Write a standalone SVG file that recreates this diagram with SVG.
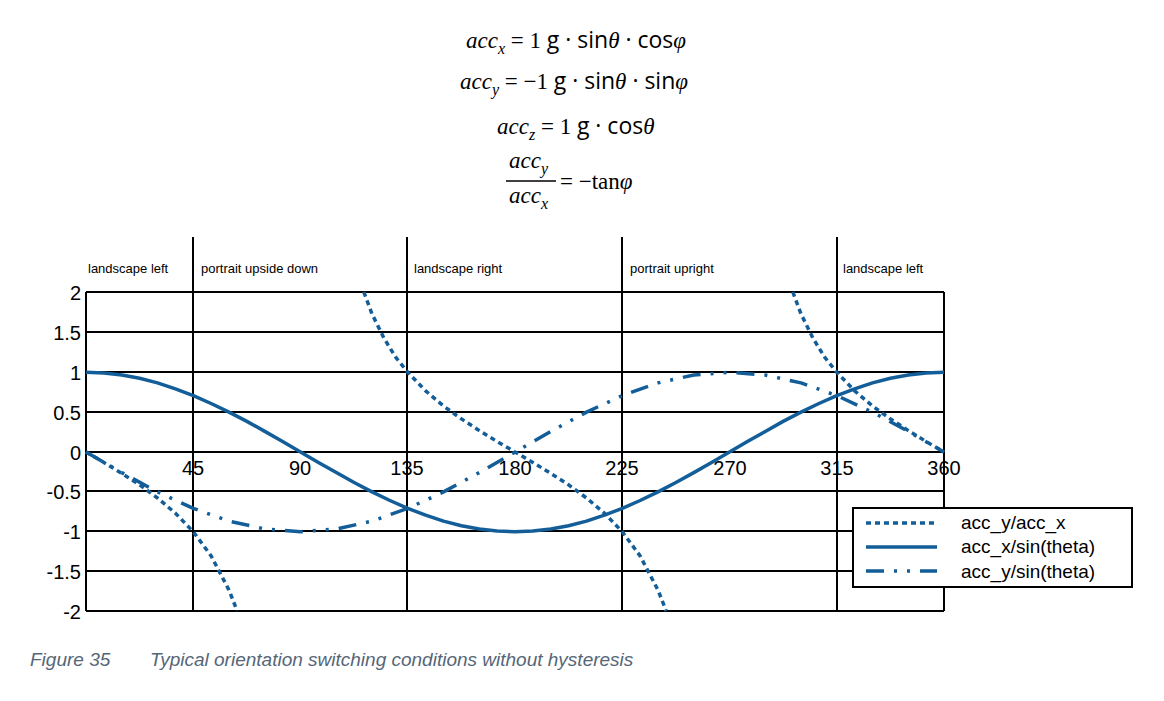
<svg xmlns="http://www.w3.org/2000/svg" width="1164" height="701" viewBox="0 0 1164 701">
<style>
.eq{font-family:"Liberation Serif",serif;font-size:23px;fill:#000}
.it{font-style:italic}
.fn{font-family:"Open Sans","Liberation Sans",sans-serif}
.grid{stroke:#000;stroke-width:2;fill:none}
.ax{font-family:"Liberation Sans",sans-serif;font-size:20px;fill:#000}
.reg{font-family:"Liberation Sans",sans-serif;font-size:13px;fill:#000}
.c{fill:none;stroke:#135e98;stroke-width:3.5;stroke-linejoin:round}
.dot{stroke-dasharray:5 4}
.dd{stroke-dasharray:18 10 3 10 3 10}
.lg{font-family:"Liberation Sans",sans-serif;font-size:19px;fill:#000}
.cap{font-family:"Liberation Sans",sans-serif;font-size:19px;font-style:italic;fill:#556677}
</style>
<g id="equations" class="eq">
<text x="466" y="48"><tspan class="it">acc</tspan><tspan class="it" font-size="16" dy="6">x</tspan><tspan dy="-6"> = 1 </tspan><tspan class="fn">g · sin</tspan><tspan class="it">θ</tspan><tspan class="fn"> · cos</tspan><tspan class="it">φ</tspan></text>
<text x="460" y="89"><tspan class="it">acc</tspan><tspan class="it" font-size="16" dy="6">y</tspan><tspan dy="-6"> = −1 </tspan><tspan class="fn">g · sin</tspan><tspan class="it">θ</tspan><tspan class="fn"> · sin</tspan><tspan class="it">φ</tspan></text>
<text x="497" y="134"><tspan class="it">acc</tspan><tspan class="it" font-size="16" dy="6">z</tspan><tspan dy="-6"> = 1 </tspan><tspan class="fn">g · cos</tspan><tspan class="it">θ</tspan></text>
<text x="509" y="168"><tspan class="it">acc</tspan><tspan class="it" font-size="16" dy="6">y</tspan></text>
<line x1="506" y1="181" x2="556" y2="181" stroke="#000" stroke-width="1.5"/>
<text x="509" y="203"><tspan class="it">acc</tspan><tspan class="it" font-size="16" dy="6">x</tspan></text>
<text x="560" y="189">=  −tan<tspan class="it">φ</tspan></text>
</g>
<g id="grid" class="grid">
<path d="M86 292H944M86 332H944M86 372H944M86 412H944M86 452H944M86 491H944M86 531H944M86 571H944M86 611H944"/>
<path d="M86 292V611M944 292V611M193 237V611M407 237V611M622 237V611M837 237V611"/>
</g>
<g id="region-labels" class="reg">
<text x="88" y="273">landscape left</text>
<text x="201" y="273">portrait upside down</text>
<text x="414" y="273">landscape right</text>
<text x="630" y="273">portrait upright</text>
<text x="843" y="273">landscape left</text>
</g>
<g id="y-axis" class="ax" text-anchor="end">
<text x="81" y="300">2</text><text x="81" y="340">1.5</text><text x="81" y="380">1</text><text x="81" y="420">0.5</text><text x="81" y="460">0</text><text x="81" y="499">-0.5</text><text x="81" y="539">-1</text><text x="81" y="579">-1.5</text><text x="81" y="619">-2</text>
</g>
<g id="x-axis" class="ax" text-anchor="middle">
<text x="193" y="475">45</text><text x="300" y="475">90</text><text x="407" y="475">135</text><text x="515" y="475">180</text><text x="622" y="475">225</text><text x="730" y="475">270</text><text x="837" y="475">315</text><text x="944" y="475">360</text>
</g>
<g id="curves">
<polyline class="c" points="86,372.3 103.9,372.9 121.8,375 139.6,378.3 157.5,382.9 175.4,388.8 193.3,395.6 211.1,403.5 229,412.1 246.9,421.4 264.8,431.4 282.6,441.6 300.5,452 318.4,462.4 336.3,472.6 354.1,482.5 372,491.9 389.9,500.5 407.8,508.4 425.6,515.2 443.5,521.1 461.4,525.7 479.3,529 497.1,531.1 515,531.8 532.9,531.1 550.8,529 568.6,525.7 586.5,521.1 604.4,515.2 622.3,508.4 640.1,500.5 658,491.9 675.9,482.5 693.8,472.6 711.6,462.4 729.5,452 747.4,441.6 765.3,431.4 783.1,421.4 801,412.1 818.9,403.5 836.8,395.6 854.6,388.8 872.5,382.9 890.4,378.3 908.3,375 926.1,372.9 944,372.3"/>
<polyline class="c dd" points="86,452 121.8,472.6 157.5,491.9 193.3,508.4 229,521.1 264.8,529 300.5,531.8 336.3,529 372,521.1 407.8,508.4 443.5,491.9 479.3,472.6 515,452 550.8,431.4 586.5,412.1 622.3,395.6 658,382.9 693.8,375 729.5,372.3 765.3,375 801,382.9 836.8,395.6 872.5,412.1 908.3,431.4 944,452"/>
<g class="c dot">
<polyline points="86,452 103.9,462.5 121.8,473.4 139.6,484.8 157.5,498 175.4,513.2 193.3,531.8 211.1,555.9 229,590.1 237.2,611"/>
<polyline points="363.8,292 372,313.9 383.9,338.1 395.8,357.4 407.8,372.3 425.6,390.8 443.5,406 461.4,418.9 479.3,430.6 497.1,441.5 515,452 532.9,462.5 550.8,473.4 568.6,484.8 586.5,498 604.4,513.2 622.3,531.8 640.1,555.9 658,590.1 666.2,611"/>
<polyline points="792.8,292 801,313.9 812.9,338.1 824.8,357.4 836.8,372.3 854.6,390.8 872.5,406 890.4,418.9 908.3,430.6 926.1,441.5 944,452"/>
</g>
</g>
<g id="legend">
<rect x="853" y="508" width="279" height="79" fill="#fff" stroke="#000" stroke-width="2"/>
<line class="c dot" x1="866" y1="523" x2="937" y2="523"/>
<line class="c" x1="866" y1="547" x2="937" y2="547"/>
<line class="c dd" x1="866" y1="571" x2="937" y2="571"/>
<text class="lg" x="961" y="529">acc_y/acc_x</text>
<text class="lg" x="961" y="553">acc_x/sin(theta)</text>
<text class="lg" x="961" y="578">acc_y/sin(theta)</text>
</g>
<g id="caption" class="cap">
<text x="30" y="666">Figure 35</text>
<text x="150" y="666">Typical orientation switching conditions without hysteresis</text>
</g>
</svg>
